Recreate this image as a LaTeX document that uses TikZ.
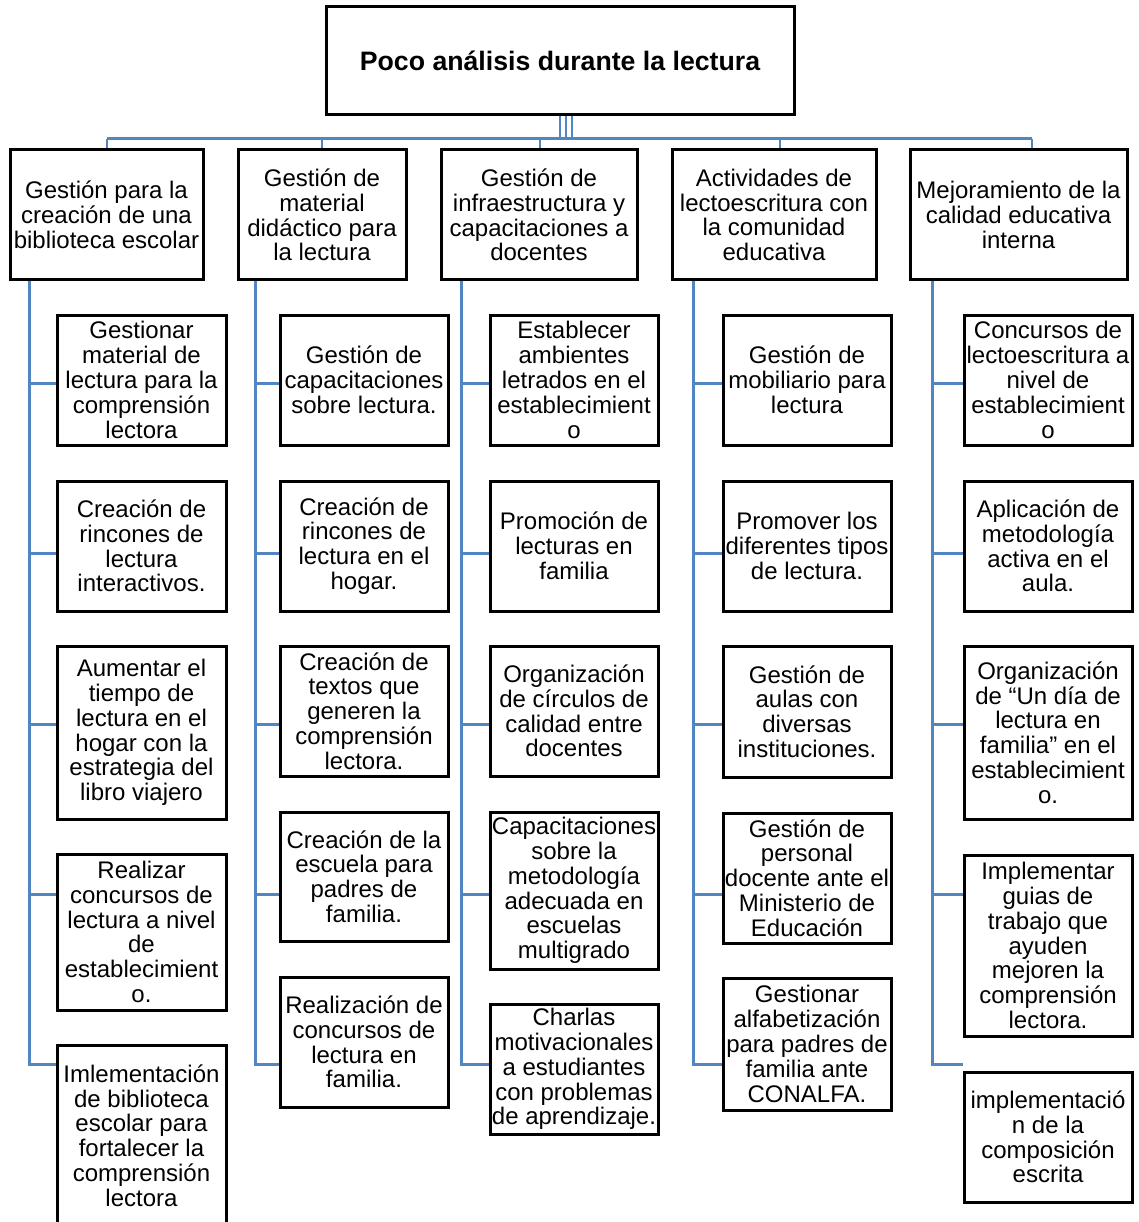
\documentclass[tikz,border=0pt]{standalone}
\usepackage{fontspec}
\setmainfont{Liberation Sans}
\definecolor{linkblue}{RGB}{82,134,194}
\tikzset{
  box/.style={draw=black, line width=3pt, fill=white, align=center, inner sep=0pt,
    font=\fontsize{24}{24.8}\selectfont},
  titlebox/.style={box, font=\fontsize{26.67}{30}\selectfont\bfseries},
  conn/.style={draw=linkblue, line width=3pt},
  thinconn/.style={draw=linkblue, line width=2.4pt},
}
\newcommand{\mkbox}[7][box]{\node[#1, minimum width={(#5-#3)*1pt}, minimum height={(#6-#4)*1pt}] (#2) at ({(#3+#5)/2},{(#4+#6)/2}) {#7};}
\begin{document}
\begin{tikzpicture}[x=1pt,y=-1pt]
\useasboundingbox (0,0) rectangle (1139,1222);
% ---------- boxes ----------
\mkbox[titlebox]{T}{326}{7}{794}{115}{Poco análisis durante la lectura}
\mkbox{L1}{10}{150}{203}{280}{Gestión para la\\creación de una\\biblioteca escolar}
\mkbox{L2}{238}{150}{406}{280}{Gestión de\\material\\didáctico para\\la lectura}
\mkbox{L3}{441}{150}{637}{280}{Gestión de\\infraestructura y\\capacitaciones a\\docentes}
\mkbox{L4}{672}{150}{876}{280}{Actividades de\\lectoescritura con\\la comunidad\\educativa}
\mkbox{L5}{910}{150}{1127}{280}{Mejoramiento de la\\calidad educativa\\interna}
% column 1
\mkbox{c11}{57}{315}{226}{445}{Gestionar\\material de\\lectura para la\\comprensión\\lectora}
\mkbox{c12}{57}{481}{226}{611}{Creación de\\rincones de\\lectura\\interactivos.}
\mkbox{c13}{57}{646}{226}{819}{Aumentar el\\tiempo de\\lectura en el\\hogar con la\\estrategia del\\libro viajero}
\mkbox{c14}{57}{854}{226}{1010}{Realizar\\concursos de\\lectura a nivel\\de\\establecimient\\o.}
\mkbox{c15}{57}{1045}{226}{1226}{Imlementación\\de biblioteca\\escolar para\\fortalecer la\\comprensión\\lectora}
% column 2
\mkbox{c21}{280}{315}{448}{445}{Gestión de\\capacitaciones\\sobre lectura.}
\mkbox{c22}{280}{481}{448}{611}{Creación de\\rincones de\\lectura en el\\hogar.}
\mkbox{c23}{280}{646}{448}{776}{Creación de\\textos que\\generen la\\comprensión\\lectora.}
\mkbox{c24}{280}{812}{448}{941}{Creación de la\\escuela para\\padres de\\familia.}
\mkbox{c25}{280}{977}{448}{1107}{Realización de\\concursos de\\lectura en\\familia.}
% column 3
\mkbox{c31}{490}{315}{658}{445}{Establecer\\ambientes\\letrados en el\\establecimient\\o}
\mkbox{c32}{490}{481}{658}{611}{Promoción de\\lecturas en\\familia}
\mkbox{c33}{490}{646}{658}{776}{Organización\\de círculos de\\calidad entre\\docentes}
\mkbox{c34}{490}{812}{658}{969}{Capacitaciones\\sobre la\\metodología\\adecuada en\\escuelas\\multigrado}
\mkbox{c35}{490}{1004}{658}{1134}{Charlas\\motivacionales\\a estudiantes\\con problemas\\de aprendizaje.}
% column 4
\mkbox{c41}{723}{315}{891}{445}{Gestión de\\mobiliario para\\lectura}
\mkbox{c42}{723}{481}{891}{611}{Promover los\\diferentes tipos\\de lectura.}
\mkbox{c43}{723}{646}{891}{777}{Gestión de\\aulas con\\diversas\\instituciones.}
\mkbox{c44}{723}{813}{891}{943}{Gestión de\\personal\\docente ante el\\Ministerio de\\Educación}
\mkbox{c45}{723}{978}{891}{1110}{Gestionar\\alfabetización\\para padres de\\familia ante\\CONALFA.}
% column 5
\mkbox{c51}{964}{315}{1132}{445}{Concursos de\\lectoescritura a\\nivel de\\establecimient\\o}
\mkbox{c52}{964}{481}{1132}{611}{Aplicación de\\metodología\\activa en el\\aula.}
\mkbox{c53}{964}{646}{1132}{819}{Organización\\de “Un día de\\lectura en\\familia” en el\\establecimient\\o.}
\mkbox{c54}{964}{855}{1132}{1036}{Implementar\\guias de\\trabajo que\\ayuden\\mejoren la\\comprensión\\lectora.}
\mkbox{c55}{964}{1072}{1132}{1202}{implementació\\n de la\\composición\\escrita}
% ---------- helper coordinates ----------
\coordinate (bus) at (0,139);
\coordinate (v1) at (560,0);
\coordinate (v2) at (566,0);
\coordinate (v3) at (572,0);
\coordinate (d1) at (107,0);
\coordinate (d2) at (322,0);
\coordinate (d3) at (540,0);
\coordinate (d4) at (780,0);
\coordinate (d5) at (1032,0);
\coordinate (t1) at (29,0);
\coordinate (t2) at (255,0);
\coordinate (t3) at (461,0);
\coordinate (t4) at (693,0);
\coordinate (t5) at (932,0);
\coordinate (r1) at (0,383);
\coordinate (r2) at (0,553);
\coordinate (r3) at (0,724);
\coordinate (r4) at (0,894);
\coordinate (r5) at (0,1064);
% ---------- top connectors ----------
\foreach \v in {v1,v2,v3}
  \draw[thinconn] (T.south -| \v) -- (\v |- bus);
\draw[conn] (d1 |- bus) -- (d5 |- bus);
\foreach \d/\L in {d1/L1,d2/L2,d3/L3,d4/L4,d5/L5}
  \draw[thinconn] (\d |- bus) -- (\d |- \L.north);
% ---------- column connectors ----------
\foreach \k in {1,...,5}{
  \draw[conn] (t\k |- L\k.south) |- (c\k5.west |- r5);
  \foreach \j in {1,...,4}
    \draw[conn] (t\k |- r\j) -- (c\k\j.west |- r\j);
}
\end{tikzpicture}
\end{document}
